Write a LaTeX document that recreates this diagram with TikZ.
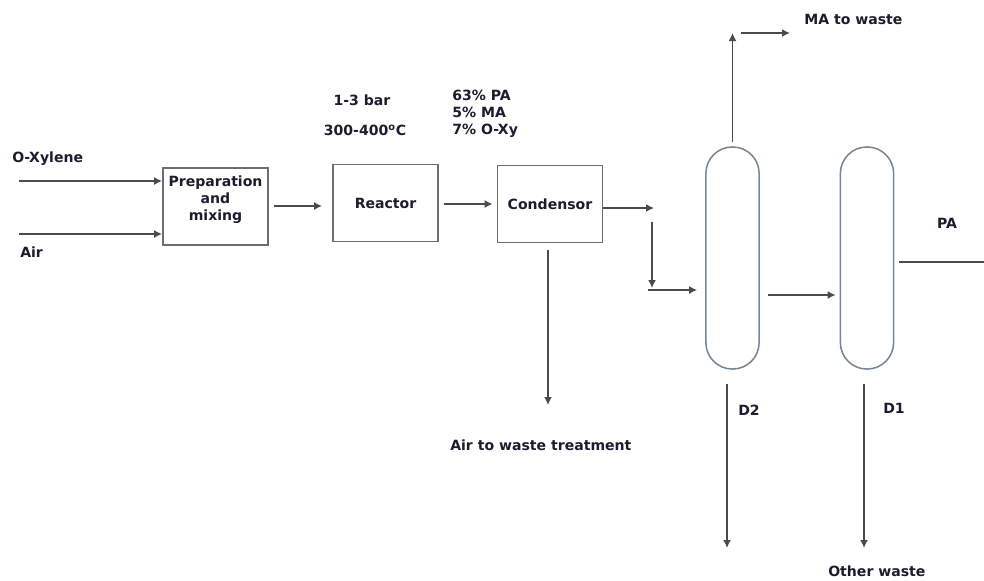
\documentclass[tikz,border=0pt]{standalone}
\usepackage{fontspec}
\setmainfont{DejaVu Sans}
\usepackage{tikz}
\usetikzlibrary{arrows.meta,positioning,calc}
\definecolor{txtcol}{RGB}{28,28,45}
\definecolor{linecol}{RGB}{75,75,75}
\definecolor{boxcol}{RGB}{110,110,110}
\definecolor{colcol}{RGB}{120,135,150}
\tikzset{
  unit/.style={draw=boxcol, line width=1.1pt, minimum width=2.63cm, minimum height=1.93cm, align=center, inner sep=0pt, text=txtcol, font=\fontsize{10}{12.1}\selectfont\bfseries},
  column/.style={draw=colcol, line width=1.1pt, rounded corners=0.66cm, minimum width=1.33cm, minimum height=5.55cm, inner sep=0pt},
  lbl/.style={text=txtcol, inner sep=0pt, align=left, font=\fontsize{10}{12.1}\selectfont\bfseries},
  flow/.style={draw=linecol, line width=1.1pt, -{Latex[length=2mm,width=2mm]}},
  line/.style={draw=linecol, line width=1.1pt}
}
\begin{document}
\begin{tikzpicture}[x=0.025cm,y=-0.025cm]
  \useasboundingbox (0,0) rectangle (984,580);
  \node[unit] (prep) at (215.5,206.5) {Preparation\\and\\mixing\\\mbox{}};
  \node[unit] (reactor) at (385.5,203) {Reactor};
  \node[unit] (cond) at (550,204) {Condensor};
  \node[column] (d2) at (732.5,258) {};
  \node[column] (d1) at (867,258) {};

  \node[lbl, anchor=west] (xylene) at (12,159) {O-Xylene};
  \node[lbl, anchor=west] (air) at (20,252) {Air};
  \node[lbl] (pres) at (362,100) {1-3 bar};
  \node[lbl] (temp) at (365,130) {300-400\textsuperscript{o}C};
  \node[lbl, anchor=west] (comp) at (452,114) {63\% PA\\5\% MA\\7\% O-Xy};
  \node[lbl, anchor=west] (malbl) at (804,19) {MA to waste};
  \node[lbl] (palbl) at (947,223) {PA};
  \node[lbl, anchor=west] (d2lbl) at (738,410) {D2};
  \node[lbl, anchor=west] (d1lbl) at (883,408) {D1};
  \node[lbl, anchor=west] (airlbl) at (450,445) {Air to waste treatment};
  \node[lbl, anchor=west] (wastelbl) at (828,571) {Other waste};

  \coordinate (xin) at (19,181);
  \coordinate (airin) at (19,234);
  \coordinate (split) at (654,208);
  \coordinate (feed) at (652,290);
  \coordinate (maout) at (790,33);
  \coordinate (paout) at (984,262);
  \coordinate (airout) at (548,405);
  \coordinate (d2out) at (727,548);
  \coordinate (d1out) at (864,548);

  \draw[flow] (xin) -- (xin -| prep.west);
  \draw[flow] (airin) -- (airin -| prep.west);
  \draw[flow, shorten <=0.125cm, shorten >=0.25cm] (prep.east |- 0,206) -- (reactor.west |- 0,206);
  \draw[flow, shorten <=0.125cm, shorten >=0.1cm] (reactor.east |- 0,204) -- (cond.west |- 0,204);
  \draw[flow] (cond.east |- split) -- (split);
  \draw[flow, shorten <=0.35cm, shorten >=0.05cm] (split -| feed) -- (feed);
  \draw[flow, shorten >=0.2cm] ($(feed)+(-4,0)$) -- (feed -| d2.west);
  \draw[flow, shorten <=0.2cm, shorten >=0.1cm] ($(d2.east)+(0,37)$) -- ($(d1.west)+(0,37)$);
  \draw[line, shorten <=0.125cm] (d1.east |- paout) -- (paout);
  \draw[flow, shorten <=0.1cm] (d2.north) -- (d2.north |- maout);
  \draw[flow] ($(d2.north |- maout)+(8,0)$) -- (maout);
  \draw[flow, shorten <=0.175cm] (cond.south -| airout) -- (airout);
  \draw[flow, shorten <=0.35cm] (d2.south -| d2out) -- (d2out);
  \draw[flow, shorten <=0.35cm] (d1.south -| d1out) -- (d1out);
\end{tikzpicture}
\end{document}
